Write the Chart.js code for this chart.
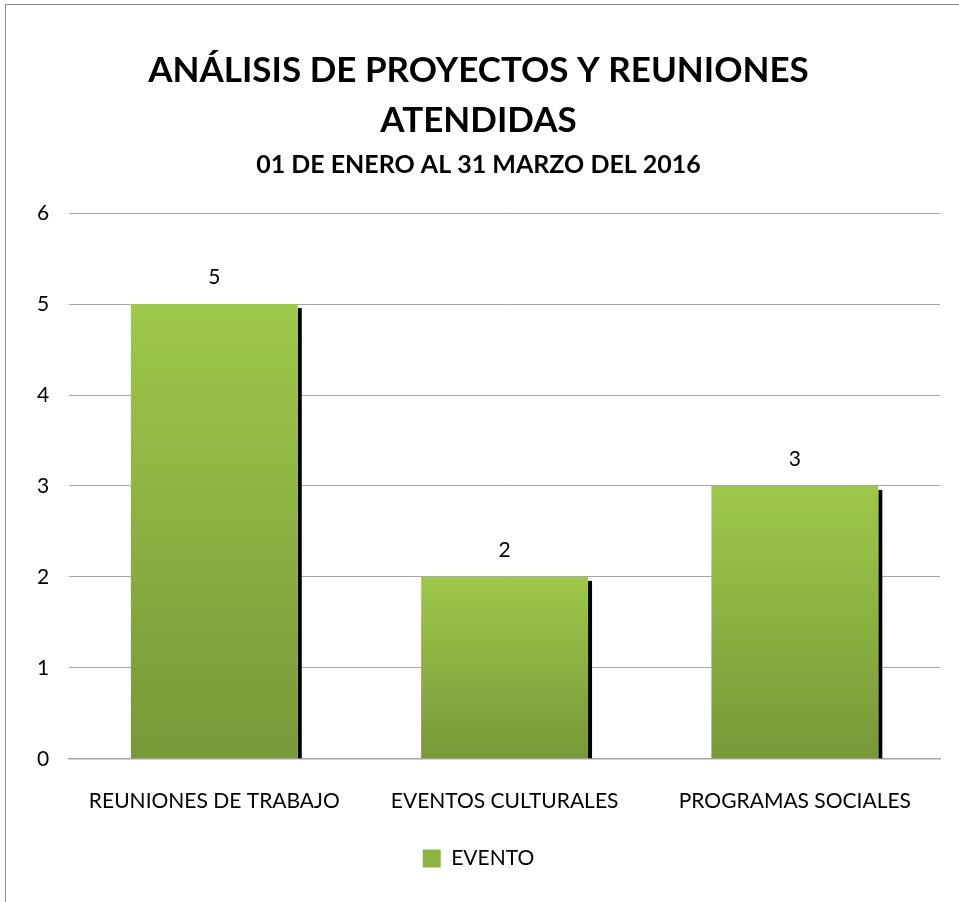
<!DOCTYPE html>
<html><head><meta charset="utf-8">
<script src="https://cdn.jsdelivr.net/npm/chart.js@4/dist/chart.umd.min.js"></script>
<style>
html,body{margin:0;padding:0;background:#fff;}
#frame{position:absolute;left:5px;top:4px;width:980px;height:920px;border:1.5px solid #8c8c8c;box-sizing:border-box;}
#wrap{position:absolute;left:0;top:0;width:954px;height:898px;}
</style></head>
<body>
<div id="frame"></div>
<div id="wrap"><canvas id="c" width="954" height="898"></canvas></div>
<script>
const categories = ['REUNIONES DE TRABAJO', 'EVENTOS CULTURALES', 'PROGRAMAS SOCIALES'];
const eventoValues = [5, 2, 3];
const seriesName = 'EVENTO';
const titleLines = ['ANÁLISIS DE PROYECTOS Y REUNIONES', 'ATENDIDAS'];
const subtitleText = '01 DE ENERO AL 31 MARZO DEL 2016';

const FONT = 'Lato, "Open Sans", sans-serif';

function barGradient(context) {
  const chart = context.chart;
  const area = chart.chartArea;
  if (!area || context.type !== 'data') return '#9BC24A';
  const y = chart.scales.y;
  const v = context.raw;
  const top = y.getPixelForValue(v);
  const bottom = y.getPixelForValue(0);
  const g = chart.ctx.createLinearGradient(0, top, 0, bottom);
  g.addColorStop(0, '#9EC84B');
  g.addColorStop(1, '#779838');
  return g;
}

const shadowPlugin = {
  id: 'shadow',
  beforeDatasetsDraw(chart) {
    const ctx = chart.ctx;
    const meta = chart.getDatasetMeta(0);
    ctx.save();
    ctx.fillStyle = '#000';
    meta.data.forEach(el => {
      const p = el.getProps(['x', 'y', 'base', 'width'], true);
      const right = p.x + p.width / 2;
      ctx.fillRect(right, p.y + 4, 4, p.base - p.y - 4);
    });
    ctx.restore();
  },
  afterDatasetsDraw(chart) {
    const ctx = chart.ctx;
    const meta = chart.getDatasetMeta(0);
    ctx.save();
    ctx.fillStyle = '#000';
    ctx.font = '21px ' + FONT;
    ctx.textAlign = 'center';
    ctx.textBaseline = 'middle';
    meta.data.forEach((el, i) => {
      const p = el.getProps(['x', 'y'], true);
      ctx.fillText(String(eventoValues[i]), p.x, p.y - 27);
    });
    ctx.restore();
  }
};

new Chart(document.getElementById('c'), {
  type: 'bar',
  data: {
    labels: categories,
    datasets: [{
      label: seriesName,
      data: eventoValues,
      backgroundColor: barGradient,
      borderWidth: 0,
      categoryPercentage: 1,
      barPercentage: 0.575
    }]
  },
  options: {
    responsive: false,
    animation: false,
    layout: { padding: { left: 17, right: 14, top: 46, bottom: 19 } },
    plugins: {
      title: {
        display: true,
        text: titleLines,
        color: '#000',
        font: { family: FONT, size: 35, weight: 'bold', lineHeight: 1.43 },
        padding: { top: 0, bottom: 0 }
      },
      subtitle: {
        display: true,
        text: subtitleText,
        color: '#000',
        font: { family: FONT, size: 25, weight: 'bold', lineHeight: 1.2 },
        padding: { top: 4, bottom: 33 }
      },
      legend: {
        display: true,
        position: 'bottom',
        labels: {
          color: '#000',
          font: { family: FONT, size: 21 },
          boxWidth: 18,
          boxHeight: 18,
          padding: 4,
          generateLabels(chart) {
            return [{
              text: seriesName,
              fillStyle: '#8DB443',
              strokeStyle: '#8DB443',
              lineWidth: 0,
              datasetIndex: 0
            }];
          }
        }
      },
      tooltip: { enabled: false }
    },
    scales: {
      x: {
        grid: { display: false, drawTicks: false },
        border: { display: true, color: '#a6a6a6', width: 1.5 },
        ticks: { color: '#000', font: { family: FONT, size: 21 }, padding: 30 }
      },
      y: {
        min: 0, max: 6,
        grid: { color: '#a6a6a6', lineWidth: 1, drawTicks: false },
        border: { display: false },
        ticks: { stepSize: 1, color: '#000', font: { family: FONT, size: 21 }, padding: 20 }
      }
    }
  },
  plugins: [shadowPlugin]
});
</script>
</body></html>
